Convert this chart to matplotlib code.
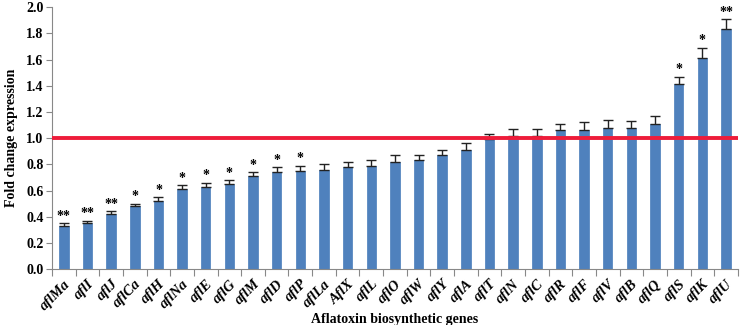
import matplotlib
matplotlib.use("Agg")
import matplotlib.pyplot as plt
import numpy as np

genes = ["aflMa", "aflI", "aflJ", "aflCa", "aflH", "aflNa", "aflE", "aflG", "aflM", "aflD",
         "aflP", "aflLa", "AflX", "aflL", "aflO", "aflW", "aflY", "aflA", "aflT", "aflN",
         "aflC", "aflR", "aflF", "aflV", "aflB", "aflQ", "aflS", "aflK", "aflU"]
values = [0.33, 0.35, 0.42, 0.48, 0.52, 0.61, 0.63, 0.65, 0.71, 0.74,
          0.75, 0.76, 0.78, 0.79, 0.82, 0.83, 0.87, 0.91, 0.99, 1.02,
          1.02, 1.06, 1.06, 1.08, 1.08, 1.11, 1.41, 1.61, 1.83]
errors = [0.02, 0.02, 0.02, 0.02, 0.03, 0.03, 0.03, 0.03, 0.03, 0.04,
          0.04, 0.04, 0.04, 0.04, 0.05, 0.04, 0.04, 0.05, 0.04, 0.05,
          0.05, 0.05, 0.06, 0.06, 0.05, 0.06, 0.06, 0.08, 0.08]
stars = ["**", "**", "**", "*", "*", "*", "*", "*", "*", "*",
         "*", "", "", "", "", "", "", "", "", "",
         "", "", "", "", "", "", "*", "*", "**"]

fig = plt.figure(figsize=(7.43, 3.25), dpi=100)
ax = fig.add_axes([0.070, 0.172, 0.923, 0.806])

x = np.arange(len(genes))
ax.bar(x, values, width=0.4, color="#4F81BD", edgecolor="#4A7EBB", linewidth=0.5, zorder=2)
ax.errorbar(x, values, yerr=[np.zeros(len(errors)), errors], fmt="none",
            ecolor="#222222", elinewidth=1.0, capsize=3.5, capthick=1.0, zorder=3)
for xi, v, e, s in zip(x, values, errors, stars):
    if s:
        ax.text(xi, v + e + 0.003, s, ha="center", va="bottom",
                fontsize=10, fontweight="bold", family="Liberation Serif", zorder=4)

ax.axhline(1.0, color="#EE1C3A", linewidth=2.8, zorder=4)

ax.set_xlim(-0.5, len(genes) - 0.5)
ax.set_ylim(0, 2.0)
ax.set_yticks(np.arange(0, 2.01, 0.2))
ax.set_yticklabels([f"{t:.1f}" for t in np.arange(0, 2.01, 0.2)],
                   fontsize=10, fontweight="bold", family="Liberation Serif")
ax.set_xticks(np.arange(-0.5, len(genes), 1.0))
ax.set_xticklabels([])
ax.set_xticks(x, minor=True)
ax.set_xticklabels(genes, minor=True, rotation=45, ha="right", rotation_mode="anchor",
                   fontsize=10.5, fontweight="bold", fontstyle="italic", family="Liberation Serif")
ax.tick_params(axis="x", which="minor", length=0, pad=6)
ax.tick_params(axis="x", which="major", length=5, color="#888888")
ax.tick_params(axis="y", length=4, color="#888888", pad=2)

for sp in ["top", "right"]:
    ax.spines[sp].set_visible(False)
for sp in ["left", "bottom"]:
    ax.spines[sp].set_color("#888888")
    ax.spines[sp].set_linewidth(0.8)

ax.set_ylabel("Fold change expression", fontsize=10, fontweight="bold", family="Liberation Serif", labelpad=6)
ax.set_xlabel("Aflatoxin biosynthetic genes", fontsize=10, fontweight="bold", family="Liberation Serif", labelpad=0)

fig.savefig("out.png", dpi=100)
